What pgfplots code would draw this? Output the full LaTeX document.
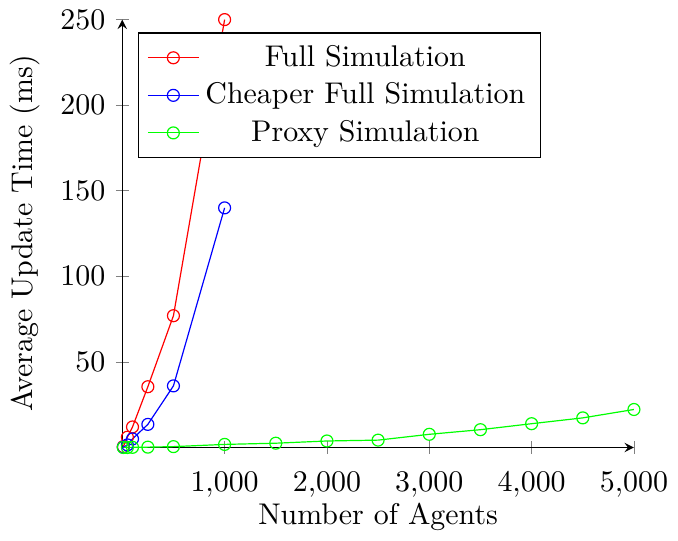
\documentclass[border=0pt]{standalone}
\usepackage{pgfplots}
\pgfplotsset{compat=1.18}
\begin{document}
\begin{tikzpicture}
\begin{axis}[
  scale only axis,
  width=171pt, height=143pt,
  axis lines=left,
  xmin=0, xmax=5000, ymin=0, ymax=250,
  xtick={1000,2000,3000,4000,5000},
  ytick={50,100,150,200,250},
  xticklabel style={yshift=-2.5pt},
  x label style={yshift=5pt},
  xlabel={Number of Agents},
  ylabel={Average Update Time (ms)},
  legend pos=north west,
  legend cell align=center,
]
\addplot[red, mark=o] coordinates {
(10,0.5) (50,6) (100,12) (250,35.5) (500,77) (1000,250)
};
\addlegendentry{Full Simulation}
\addplot[blue, mark=o] coordinates {
(10,0.2) (50,1.5) (100,5) (250,13.5) (500,36) (1000,140)
};
\addlegendentry{Cheaper Full Simulation}
\addplot[green, mark=o] coordinates {
(10,0) (50,0) (100,0.1) (250,0.2) (500,0.5) (1000,1.8) (1500,2.5) (2000,3.8) (2500,4.3) (3000,7.7) (3500,10.4) (4000,13.9) (4500,17.3) (5000,22.2)
};
\addlegendentry{Proxy Simulation}
\end{axis}
\end{tikzpicture}
\end{document}
